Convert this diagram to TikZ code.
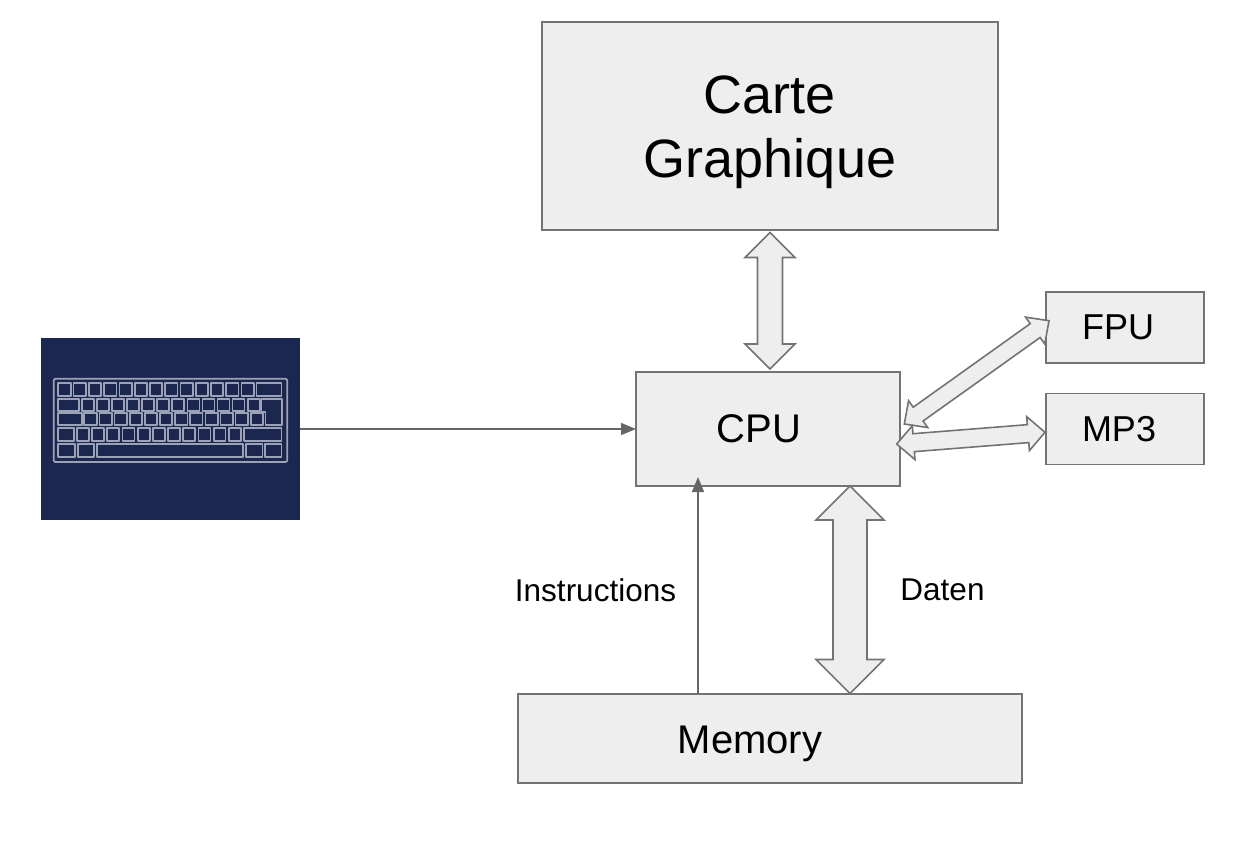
\documentclass[tikz,border=0pt]{standalone}
\usepackage{fontspec}
\setmainfont{Liberation Sans}
\usetikzlibrary{calc,arrows.meta}
\definecolor{boxfill}{HTML}{EEEEEE}
\definecolor{boxline}{HTML}{737373}
\definecolor{connline}{HTML}{666666}
\definecolor{kbbg}{HTML}{1B274F}
\definecolor{kbline}{HTML}{9DA3B6}
\tikzset{
  box/.style={draw=boxline,fill=boxfill,line width=1.6pt,inner sep=0pt,outer sep=0pt,align=center,text=black},
  blockarrow/.style={draw=boxline,fill=boxfill,line width=1.6pt,line join=miter},
  conn/.style={draw=connline,line width=1.5pt,-{Triangle[length=15pt,width=12pt]}},
  lbl/.style={inner sep=0pt,text=black,font=\fontsize{31.5}{36}\selectfont},
  kbkey/.style={draw=kbline,line width=1.7pt,line join=round},
}
\newcommand{\dblblock}[5]{%
  \draw[blockarrow] (#1)
    -- ($(#1)!#3!(#2)!#4!90:(#2)$) -- ($(#1)!#3!(#2)!#5!90:(#2)$)
    -- ($(#2)!#3!(#1)!#5!-90:(#1)$) -- ($(#2)!#3!(#1)!#4!-90:(#1)$)
    -- (#2)
    -- ($(#2)!#3!(#1)!#4!90:(#1)$) -- ($(#2)!#3!(#1)!#5!90:(#1)$)
    -- ($(#1)!#3!(#2)!#5!-90:(#2)$) -- ($(#1)!#3!(#2)!#4!-90:(#2)$)
    -- cycle;}
\begin{document}
\begin{tikzpicture}[x=1pt,y=-1pt]
\useasboundingbox (0,0) rectangle (1252,860);
% boxes
\node[box,minimum width=456pt,minimum height=208pt] (gpu) at (770,126) {};
\node[text=black,inner sep=0pt,align=center,font=\fontsize{54}{64}\selectfont] (gputext) at (770,132) {Carte\\Graphique};
\node[box,minimum width=264pt,minimum height=114pt] (cpu) at (768,429) {};
\node[text=black,inner sep=0pt,font=\fontsize{40}{46}\selectfont] (cputext) at (759,429) {CPU};
\node[box,minimum width=158pt,minimum height=71pt] (fpu) at (1125,327.5) {};
\node[text=black,inner sep=0pt,font=\fontsize{36}{42}\selectfont] (fputext) at (1118,327) {FPU};
\node[box,minimum width=158pt,minimum height=71pt] (mp3) at (1125,429) {};
\node[text=black,inner sep=0pt,font=\fontsize{36}{42}\selectfont] (mp3text) at (1119,429) {MP3};
\node[box,minimum width=504pt,minimum height=89pt] (mem) at (770,738.5) {};
\node[text=black,inner sep=0pt,font=\fontsize{40}{46}\selectfont] (memtext) at (750,744) {Memory};
% keyboard
\node[fill=kbbg,draw=none,inner sep=0pt,outer sep=0pt,minimum width=259pt,minimum height=182pt] (kb) at (170.5,429) {};
\begin{scope}[shift={(30,330)},x=0.3333pt,y=-0.3333pt]
  \draw[kbkey,rounded corners=1.5pt] (71,146) rectangle (772,396);
  \foreach \i in {0,...,12} {\draw[kbkey] ({85+45.8*\i},158) rectangle ({122+45.8*\i},198);}
  \draw[kbkey] (680,158) rectangle (755,198);
  \draw[kbkey] (85,207) rectangle (146,243);
  \foreach \i in {0,...,11} {\draw[kbkey] ({155+45.3*\i},207) rectangle ({191+45.3*\i},243);}
  \draw[kbkey] (695,207) -- (757,207) -- (757,285) -- (707,285) -- (707,245) -- (695,245) -- cycle;
  \draw[kbkey] (85,250) rectangle (155,285);
  \foreach \i in {0,...,11} {\draw[kbkey] ({163+45.4*\i},250) rectangle ({200+45.4*\i},285);}
  \foreach \i in {0,...,11} {\draw[kbkey] ({\ifnum\i=0 85\else 95\fi+45.6*\i},295) rectangle ({131+45.6*\i},333);}
  \draw[kbkey] (643,295) rectangle (755,333);
  \draw[kbkey] (85,342) rectangle (135,381);
  \draw[kbkey] (143,342) rectangle (193,381);
  \draw[kbkey] (200,342) rectangle (640,381);
  \draw[kbkey] (648,342) rectangle (698,381);
  \draw[kbkey] (705,342) rectangle (755,381);
\end{scope}
% block arrows
\coordinate (gpuTip) at (770,232.5);
\coordinate (cpuTopTip) at (770,369);
\dblblock{gpuTip}{cpuTopTip}{25pt}{25pt}{12.5pt}
\coordinate (cpuBotTip) at (850,486);
\coordinate (memTip) at (850,693.5);
\dblblock{cpuBotTip}{memTip}{34pt}{34pt}{17pt}
\coordinate (fpuTip) at (1049,320.7);
\coordinate (cpuFpuTip) at (904.3,424);
\dblblock{fpuTip}{cpuFpuTip}{17pt}{16.5pt}{8.5pt}
\coordinate (mp3Tip) at (1045,432.3);
\coordinate (cpuMp3Tip) at (896.7,444);
\dblblock{mp3Tip}{cpuMp3Tip}{17pt}{17pt}{9pt}
% connectors
\draw[conn] (kb.east) -- (cpu.west);
\coordinate (instrTo) at (698,477);
\draw[conn] (mem.north -| instrTo) -- (instrTo);
% labels
\node[lbl] (instr) at (595.5,590) {Instructions};
\node[lbl] (daten) at (942.5,590) {Daten};
\end{tikzpicture}
\end{document}
